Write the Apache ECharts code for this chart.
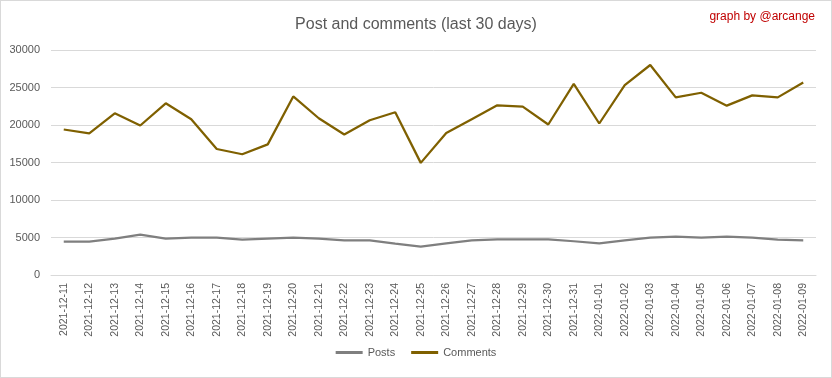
<!DOCTYPE html>
<html>
<head>
<meta charset="utf-8">
<script src="https://cdn.jsdelivr.net/npm/echarts@6/dist/echarts.min.js"></script>
<style>
  html, body { margin: 0; padding: 0; background: #fff; }
  .chart { width: 832px; height: 378px; box-sizing: border-box; border: 1px solid #d9d9d9; }
</style>
</head>
<body>
<div class="chart"></div>
<script>
const dates = [
  '2021-12-11', '2021-12-12', '2021-12-13', '2021-12-14', '2021-12-15', '2021-12-16',
  '2021-12-17', '2021-12-18', '2021-12-19', '2021-12-20', '2021-12-21', '2021-12-22',
  '2021-12-23', '2021-12-24', '2021-12-25', '2021-12-26', '2021-12-27', '2021-12-28',
  '2021-12-29', '2021-12-30', '2021-12-31', '2022-01-01', '2022-01-02', '2022-01-03',
  '2022-01-04', '2022-01-05', '2022-01-06', '2022-01-07', '2022-01-08', '2022-01-09'
]
const posts = [
  4450, 4450, 4850, 5380, 4850, 4980, 4980, 4720, 4850, 4980, 4850, 4630,
  4630, 4190, 3790, 4230, 4630, 4760, 4760, 4760, 4500, 4230, 4630, 4980,
  5120, 4980, 5120, 4980, 4720, 4630
]
const comments = [
  19400, 18880, 21560, 19930, 22890, 20770, 16800, 16100, 17420, 23810, 20900, 18740,
  20640, 21700, 14950, 18920, 20770, 22620, 22450, 20070, 25490, 20200, 25310, 28000,
  23680, 24300, 22580, 23950, 23680, 25670
]
const yTicks = [0, 5000, 10000, 15000, 20000, 25000, 30000]

const myChart = echarts.init(document.querySelector('.chart'))
const textColor = '#595959'
const font = 'Liberation Sans'
const lineDefault = {
  type: 'line',
  symbol: 'none',
  smooth: false,
}

const option = {
  animation: false,
  title: [
    {
      text: 'Post and comments (last 30 days)',
      left: 'center',
      top: 11,
      textStyle: { fontFamily: font, fontWeight: 'normal', fontSize: 16, color: textColor }
    },
    {
      text: 'graph by @arcange',
      right: 11,
      top: 5,
      textStyle: { fontFamily: font, fontWeight: 'normal', fontSize: 12, color: '#c00000' }
    }
  ],
  legend: {
    bottom: 14,
    left: 'center',
    icon: 'rect',
    itemWidth: 27,
    itemHeight: 3,
    itemGap: 16,
    itemStyle: { borderWidth: 0 },
    textStyle: { fontFamily: font, fontSize: 11, color: textColor }
  },
  grid: { left: 50, right: 15, top: 49, bottom: 102 },
  xAxis: {
    type: 'category',
    data: dates,
    boundaryGap: true,
    axisLine: { lineStyle: { color: '#d9d9d9' } },
    axisTick: { show: false },
    axisLabel: {
      rotate: 90,
      interval: 0,
      margin: 8,
      fontFamily: font,
      fontSize: 10.5,
      color: textColor
    }
  },
  yAxis: {
    type: 'value',
    min: yTicks[0],
    max: yTicks[yTicks.length - 1],
    interval: 5000,
    axisLine: { show: false },
    axisTick: { show: false },
    splitLine: { lineStyle: { color: '#d9d9d9' } },
    axisLabel: { margin: 11, fontFamily: font, fontSize: 11, color: textColor, formatter: v => String(v) }
  },
  series: [
    { ...lineDefault, name: 'Posts', data: posts, color: '#7f7f7f', lineStyle: { width: 2.25, color: '#7f7f7f' } },
    { ...lineDefault, name: 'Comments', data: comments, color: '#7f6000', lineStyle: { width: 2.25, color: '#7f6000' } }
  ]
}

myChart.setOption(option)
</script>
</body>
</html>
